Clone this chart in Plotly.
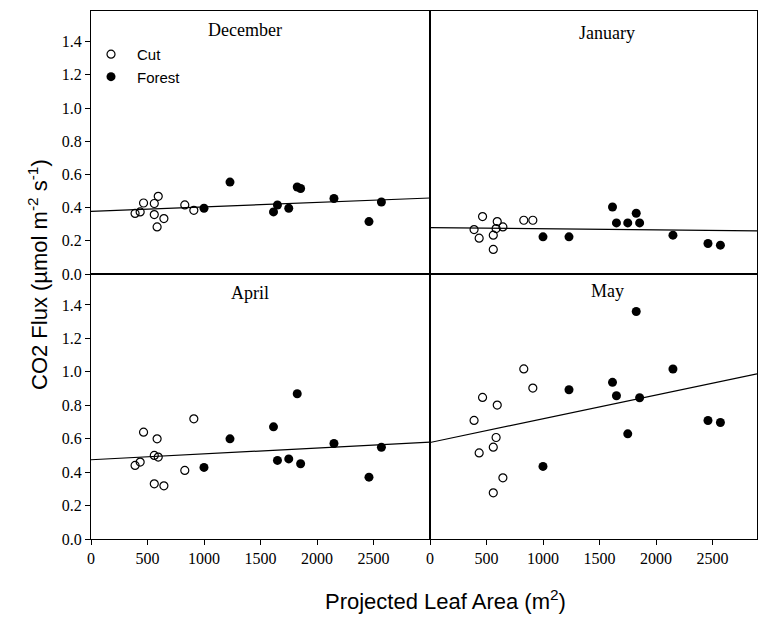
import plotly.graph_objects as go

# Projected leaf area (m^2) for each site
cut_x = [390, 435, 465, 560, 560, 585, 595, 645, 830, 910]
forest_x = [1000, 1230, 1615, 1650, 1750, 1825, 1855, 2150, 2460, 2570]

months = ["December", "January", "April", "May"]

# CO2 flux (umol m-2 s-1)
cut_dec = [0.365, 0.374, 0.428, 0.425, 0.358, 0.284, 0.468, 0.334, 0.416, 0.384]
forest_dec = [0.396, 0.554, 0.374, 0.416, 0.396, 0.524, 0.515, 0.455, 0.316, 0.434]

cut_jan = [0.268, 0.216, 0.346, 0.234, 0.148, 0.274, 0.316, 0.284, 0.324, 0.324]
forest_jan = [0.224, 0.224, 0.404, 0.308, 0.308, 0.366, 0.308, 0.234, 0.184, 0.174]

cut_apr = [0.44, 0.46, 0.639, 0.50, 0.33, 0.599, 0.49, 0.318, 0.41, 0.719]
forest_apr = [0.428, 0.599, 0.671, 0.47, 0.479, 0.869, 0.45, 0.571, 0.37, 0.549]

cut_may = [0.709, 0.515, 0.847, 0.549, 0.276, 0.607, 0.801, 0.366, 1.017, 0.903]
forest_may = [0.434, 0.893, 0.937, 0.857, 0.629, 1.361, 0.845, 1.017, 0.709, 0.697]

# Regression lines (intercept, slope per m^2)
fit_intercept = [0.378, 0.280, 0.474, 0.577]
fit_slope = [2.67e-5, -6.9e-6, 3.5e-5, 1.42e-4]

y_ticks = [0.0, 0.2, 0.4, 0.6, 0.8, 1.0, 1.2, 1.4]
x_ticks = [0, 500, 1000, 1500, 2000, 2500]

cut_vals = [cut_dec, cut_jan, cut_apr, cut_may]
forest_vals = [forest_dec, forest_jan, forest_apr, forest_may]

# layout geometry
W, H = 758, 618
ml, mr, mt, mb = 91, 1, 11, 79
xsplit = (430 - ml) / (W - ml - mr)
ysplit = (539 - 274) / (H - mt - mb)
x_left_range = [0, 3000]
x_right_range = [0, (757 - 430) * 3000 / 339]
y_range = [0, 1.585]

# axis suffixes: panel -> (xaxis, yaxis)
panel_axes = [("x3", "y3"), ("x4", "y4"), ("x", "y"), ("x2", "y2")]
xranges = [x_left_range, x_right_range, x_left_range, x_right_range]

fig = go.Figure()
serif = "Liberation Serif"
sans = "Liberation Sans"

for i, m in enumerate(months):
    xa, ya = panel_axes[i]
    show = (i == 0)
    fig.add_trace(go.Scatter(
        x=cut_x, y=cut_vals[i], mode="markers", xaxis=xa, yaxis=ya,
        name="Cut", showlegend=show,
        marker=dict(symbol="circle-open", size=8, color="black", line=dict(width=1.2, color="black")),
    ))
    fig.add_trace(go.Scatter(
        x=forest_x, y=forest_vals[i], mode="markers", xaxis=xa, yaxis=ya,
        name="Forest", showlegend=show,
        marker=dict(symbol="circle", size=9, color="black"),
    ))
    x0, x1 = xranges[i]
    fig.add_trace(go.Scatter(
        x=[x0, x1], y=[fit_intercept[i] + fit_slope[i] * x0, fit_intercept[i] + fit_slope[i] * x1],
        mode="lines", xaxis=xa, yaxis=ya, showlegend=False,
        line=dict(color="black", width=1.2),
    ))

axis_common = dict(showline=True, linecolor="black", linewidth=1, mirror=True,
                   showgrid=False, zeroline=False,
                   tickfont=dict(family=serif, size=16, color="black"))

def xax(domain, rng, ticks, anchor):
    d = dict(axis_common, domain=domain, range=rng, anchor=anchor)
    if ticks:
        d.update(tickmode="array", tickvals=x_ticks, ticks="outside", ticklen=5,
                 tickcolor="black", showticklabels=True)
    else:
        d.update(showticklabels=False, ticks="")
    return d

def yax(domain, ticks, anchor):
    d = dict(axis_common, domain=domain, range=y_range, anchor=anchor)
    if ticks:
        d.update(tickmode="array", tickvals=y_ticks, tickformat=".1f", ticks="outside",
                 ticklen=5, tickcolor="black", showticklabels=True)
    else:
        d.update(showticklabels=False, ticks="")
    return d

fig.update_layout(
    width=W, height=H,
    margin=dict(l=ml, r=mr, t=mt, b=mb),
    font=dict(family=serif, color="black"),
    paper_bgcolor="white", plot_bgcolor="white",
    xaxis=xax([0, xsplit], x_left_range, True, "y"),
    yaxis=yax([0, ysplit], True, "x"),
    xaxis2=xax([xsplit, 1], x_right_range, True, "y2"),
    yaxis2=yax([0, ysplit], False, "x2"),
    xaxis3=xax([0, xsplit], x_left_range, False, "y3"),
    yaxis3=yax([ysplit, 1], True, "x3"),
    xaxis4=xax([xsplit, 1], x_right_range, False, "y4"),
    yaxis4=yax([ysplit, 1], False, "x4"),
    legend=dict(x=-0.009, y=0.949, xanchor="left", yanchor="top", itemwidth=42,
                bgcolor="rgba(0,0,0,0)", font=dict(family=sans, size=15, color="black"),
                traceorder="normal"),
    showlegend=True,
)

pw = W - ml - mr
ph = H - mt - mb
def px_to_paper(px, py):
    return (px - ml) / pw, (H - mb - py) / ph

title_pos = [(245, 30), (607, 33), (250, 293), (607, 291)]
for m, (tx, ty) in zip(months, title_pos):
    xp, yp = px_to_paper(tx, ty)
    fig.add_annotation(x=xp, y=yp, xref="paper", yref="paper", text=m, showarrow=False,
                       font=dict(family=serif, size=18, color="black"),
                       xanchor="center", yanchor="middle")

xp, yp = px_to_paper(38, 275)
fig.add_annotation(x=xp, y=yp, xref="paper", yref="paper",
                   text="CO2 Flux (µmol m<sup>-2</sup> s<sup>-1</sup>)", textangle=-90,
                   showarrow=False, font=dict(family=sans, size=22, color="black"),
                   xanchor="center", yanchor="middle")
xp, yp = px_to_paper(445, 600)
fig.add_annotation(x=xp, y=yp, xref="paper", yref="paper",
                   text="Projected Leaf Area (m<sup>2</sup>)",
                   showarrow=False, font=dict(family=sans, size=22, color="black"),
                   xanchor="center", yanchor="middle")

fig.write_html("out.html")
